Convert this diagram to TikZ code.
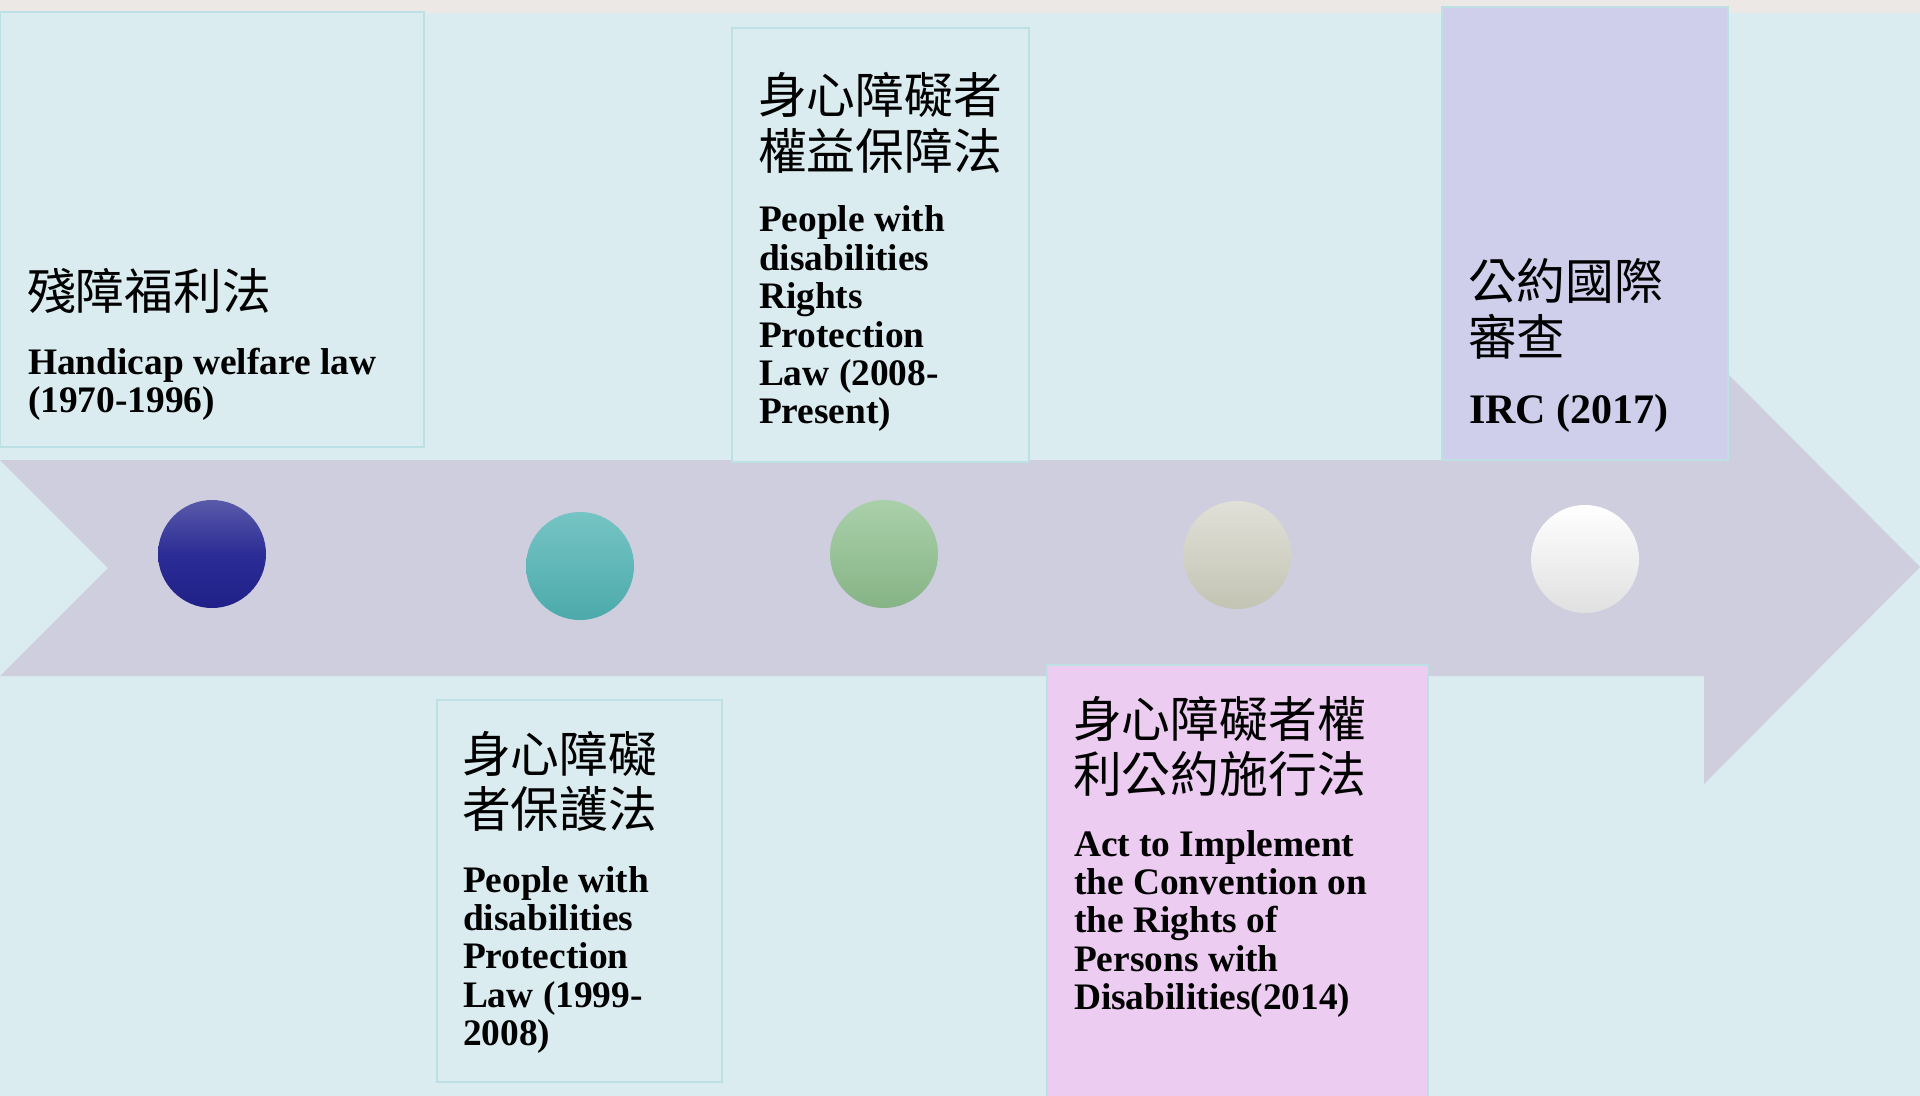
\documentclass[tikz,border=0pt]{standalone}
\usepackage{fontspec}
\setmainfont{Liberation Serif}
\newfontfamily\cjk{Noto Sans CJK TC}
\definecolor{bgc}{HTML}{DAECEF}
\definecolor{stripc}{HTML}{EBE8E5}
\definecolor{arrowc}{HTML}{CECEDF}
\definecolor{edgec}{HTML}{BCE0E3}
\definecolor{lavc}{HTML}{CFCFEC}
\definecolor{pinkc}{HTML}{EDCCF1}
\newcommand\zhtext[1]{\parbox[t]{300pt}{\raggedright\cjk\fontsize{24.4}{27.75}\selectfont #1}}
\newcommand\entext[1]{\parbox[t]{300pt}{\raggedright\bfseries\fontsize{18.7}{19.2}\selectfont #1}}
\tikzset{
  txt/.style={anchor=base west, inner sep=0pt, outer sep=0pt, text=black},
  card/.style={draw=edgec, line width=1.3pt},
  dot/.style={circle, minimum size=54pt, inner sep=0pt, draw=none}
}
\begin{document}
\begin{tikzpicture}[x=0.5pt,y=-0.5pt]
\useasboundingbox (0,0) rectangle (1920,1096);
\fill[bgc] (0,0) rectangle (1920,1096);
\fill[stripc] (0,0) rectangle (1920,13);
% timeline arrow
\fill[arrowc] (0,460) -- (1704,460) -- (1704,350) -- (1920,567) -- (1704,784) -- (1704,676) -- (0,676) -- (108,568) -- cycle;
% cards
\path[card, fill=bgc] (0,12) rectangle (424,447);
\path[card, fill=bgc] (732,28) rectangle (1029,462);
\path[card, fill=lavc] (1442,7) rectangle (1728,460);
\path[card, fill=bgc] (437,700) rectangle (722,1082);
\path[card, fill=pinkc] (1047,665) rectangle (1428,1102);
% circles
\node[dot, top color={rgb,255:red,90;green,90;blue,170}, bottom color={rgb,255:red,32;green,32;blue,136}, middle color={rgb,255:red,44;green,44;blue,150}] (c1) at (212,554) {};
\node[dot, top color={rgb,255:red,118;green,196;blue,196}, bottom color={rgb,255:red,76;green,170;blue,170}] (c2) at (580,566) {};
\node[dot, top color={rgb,255:red,170;green,208;blue,170}, bottom color={rgb,255:red,134;green,180;blue,134}] (c3) at (884,554) {};
\node[dot, top color={rgb,255:red,224;green,224;blue,216}, bottom color={rgb,255:red,196;green,196;blue,180}] (c4) at (1237,555) {};
\node[dot, top color=white, middle color=white, bottom color={rgb,255:red,224;green,224;blue,224}] (c5) at (1585,559) {};
% texts
\node[txt] (z1) at (27,310) {\zhtext{殘障福利法}};
\node[txt] (e1) at (28,374) {\entext{Handicap welfare law\\(1970-1996)}};
\node[txt] (z3) at (758,114) {\zhtext{身心障礙者\\權益保障法}};
\node[txt] (e3) at (759,232) {\entext{People with\\disabilities\\Rights\\Protection\\Law (2008-\\Present)}};
\node[txt] (z5) at (1468,300) {\zhtext{公約國際\\審查}};
\node[txt] (e5) at (1469,423) {\parbox[t]{300pt}{\bfseries\fontsize{21}{22}\selectfont IRC (2017)}};
\node[txt] (z2) at (462,772) {\zhtext{身心障礙\\者保護法}};
\node[txt] (e2) at (463,892) {\entext{People with\\disabilities\\Protection\\Law (1999-\\2008)}};
\node[txt] (z4) at (1073,737) {\zhtext{身心障礙者權\\利公約施行法}};
\node[txt] (e4) at (1074,856) {\entext{Act to Implement\\the Convention on\\the Rights of\\Persons with\\Disabilities(2014)}};
\end{tikzpicture}
\end{document}
